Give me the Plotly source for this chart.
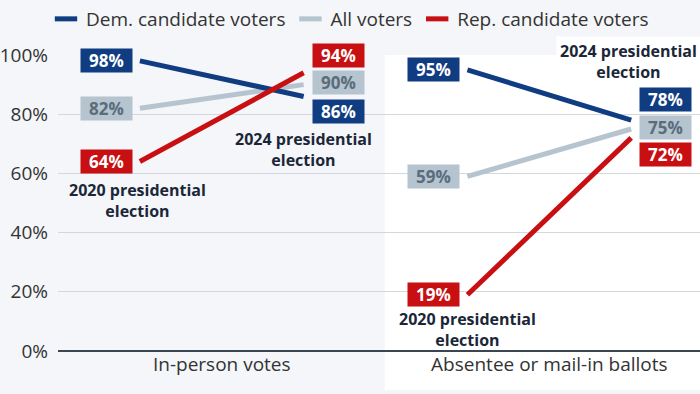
import plotly.graph_objects as go

# ---- data ----
groups = ["In-person votes", "Absentee or mail-in ballots"]
elections = ["2020 presidential<br>election", "2024 presidential<br>election"]
dem_2020 = [98, 95]
dem_2024 = [86, 78]
all_2020 = [82, 59]
all_2024 = [90, 75]
rep_2020 = [64, 19]
rep_2024 = [94, 72]
y_ticks = [0, 20, 40, 60, 80, 100]

# ---- style ----
DEM = "#103d82"
ALL = "#b5c4ce"
REP = "#c80f12"
BG = "#f4f6f9"
NAVY_TXT = "#1b2738"
FONT = "Open Sans"
OFF = 0.25  # half-distance between the two elections within a group

series = [
    # name, v2020, v2024, colour, label text colour, label yshift for 2024 [group0, group1]
    ("All voters", all_2020, all_2024, ALL, "#5b6c7c", [2, 2]),
    ("Dem. candidate voters", dem_2020, dem_2024, DEM, "white", [-15, 21]),
    ("Rep. candidate voters", rep_2020, rep_2024, REP, "white", [17, -17]),
]

fig = go.Figure()
annotations = []
for name, v20, v24, col, tcol, shifts in series:
    xs, ys = [], []
    for g in range(len(groups)):
        xs += [g - OFF, g + OFF, None]
        ys += [v20[g], v24[g], None]
        annotations.append(dict(
            x=g - OFF, y=v20[g], xref="x", yref="y", text=f"<b>{v20[g]}%</b>",
            showarrow=False, xanchor="right", yanchor="middle", xshift=-7,
            bgcolor=col, font=dict(family=FONT, size=17, color=tcol),
            width=47, height=19, borderpad=2))
        annotations.append(dict(
            x=g + OFF, y=v24[g], xref="x", yref="y", text=f"<b>{v24[g]}%</b>",
            showarrow=False, xanchor="left", yanchor="middle", xshift=8, yshift=shifts[g],
            bgcolor=col, font=dict(family=FONT, size=17, color=tcol),
            width=47, height=19, borderpad=2))
    fig.add_trace(go.Scatter(x=xs, y=ys, mode="lines", name=name, showlegend=False,
                             line=dict(color=col, width=5), hoverinfo="skip"))

# legend entries (order as in reference)
for name, col in [("Dem. candidate voters", DEM), ("All voters", ALL), ("Rep. candidate voters", REP)]:
    fig.add_trace(go.Scatter(x=[None], y=[None], mode="markers", name=name,
                             marker=dict(symbol="line-ew", size=16,
                                         line=dict(color=col, width=5))))

# election labels, anchored to a data point with pixel offsets
label_specs = [
    # election index, x, anchor y value, yshift, xshift, bg
    (0, 0 - OFF, rep_2020[0], -39, -2, "rgba(0,0,0,0)"),
    (0, 1 - OFF, rep_2020[1], -35, 0, "rgba(0,0,0,0)"),
    (1, 0 + OFF, dem_2024[0], -53, 0, "rgba(0,0,0,0)"),
    (1, 1 + OFF, dem_2024[1], 59, -3, "white"),
]
for e, x, yv, ysh, xsh, bg in label_specs:
    annotations.append(dict(x=x, y=yv, xref="x", yref="y", text=f"<b>{elections[e]}</b>",
                            showarrow=False, yanchor="middle", yshift=ysh, xshift=xsh,
                            bgcolor=bg, borderpad=3,
                            font=dict(family=FONT, size=16, color=NAVY_TXT)))

fig.update_layout(
    width=700, height=394,
    margin=dict(l=58, r=0, t=55, b=43, autoexpand=False),
    paper_bgcolor=BG, plot_bgcolor=BG,
    font=dict(family=FONT, color="#333333"),
    annotations=annotations,
    showlegend=True,
    legend=dict(orientation="h", xref="container", yref="container", x=0.5, xanchor="center",
                y=1.0, yanchor="top", font=dict(size=19, color="#333333"),
                bgcolor="rgba(0,0,0,0)", itemwidth=30),
    shapes=[dict(type="rect", xref="paper", yref="paper", x0=0.509, x1=1.02, y0=-0.132, y1=1.0,
                 fillcolor="white", line=dict(width=0), layer="below")],
)
fig.update_xaxes(range=[-0.5, 1.46], tickvals=list(range(len(groups))), ticktext=groups,
                 showgrid=False, zeroline=False, showline=False, ticks="", automargin=False,
                 tickfont=dict(size=19, color="#333333"), fixedrange=True)
fig.update_yaxes(range=[0, 100], tickvals=y_ticks, ticktext=[f"{t}%" for t in y_ticks],
                 showgrid=True, gridcolor="#d3d8de", gridwidth=1, automargin=False,
                 zeroline=True, zerolinecolor="#3c4653", zerolinewidth=2,
                 showline=False, ticks="", ticklabelstandoff=9,
                 tickfont=dict(size=19, color="#333333"), fixedrange=True)

fig.write_html("out.html", config={"displayModeBar": False},
               post_script="document.body.style.margin='0';document.body.style.background='%s';" % BG)
